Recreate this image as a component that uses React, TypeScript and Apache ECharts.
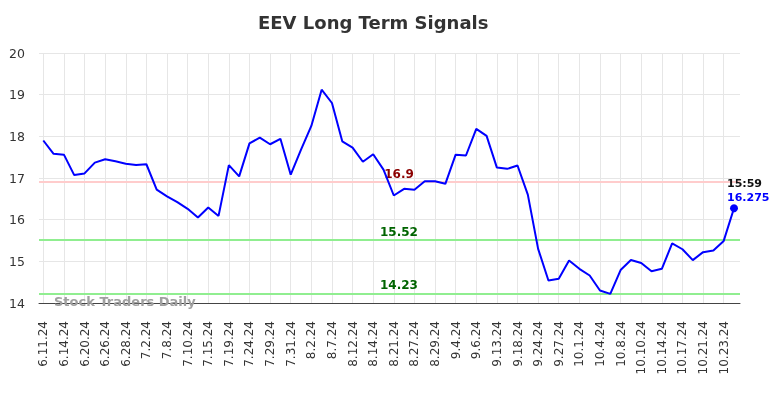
import React, { useEffect, useRef } from "react";
import * as echarts from "echarts";

const dates: string[] = [
  "6.11.24", "6.13.24", "6.14.24", "6.18.24", "6.20.24", "6.24.24", "6.26.24", "6.27.24",
  "6.28.24", "7.1.24", "7.2.24", "7.5.24", "7.8.24", "7.9.24", "7.10.24", "7.12.24",
  "7.15.24", "7.17.24", "7.19.24", "7.22.24", "7.24.24", "7.26.24", "7.29.24", "7.30.24",
  "7.31.24", "8.1.24", "8.2.24", "8.5.24", "8.7.24", "8.9.24", "8.12.24", "8.13.24",
  "8.14.24", "8.19.24", "8.21.24", "8.23.24", "8.27.24", "8.28.24", "8.29.24", "9.3.24",
  "9.4.24", "9.5.24", "9.6.24", "9.11.24", "9.13.24", "9.16.24", "9.18.24", "9.20.24",
  "9.24.24", "9.26.24", "9.27.24", "9.30.24", "10.1.24", "10.3.24", "10.4.24", "10.7.24",
  "10.8.24", "10.9.24", "10.10.24", "10.11.24", "10.14.24", "10.16.24", "10.17.24", "10.18.24",
  "10.21.24", "10.22.24", "10.23.24", "10.24.24",
];

const prices: number[] = [
  17.9, 17.58, 17.56, 17.07, 17.11, 17.37, 17.45, 17.4,
  17.34, 17.31, 17.33, 16.72, 16.56, 16.42, 16.26, 16.05,
  16.29, 16.09, 17.31, 17.04, 17.83, 17.97, 17.81, 17.94,
  17.08, 17.68, 18.25, 19.12, 18.8, 17.88, 17.73, 17.39,
  17.57, 17.2, 16.58, 16.74, 16.72, 16.92, 16.92, 16.86,
  17.56, 17.54, 18.18, 18.01, 17.25, 17.22, 17.3, 16.6,
  15.3, 14.54, 14.58, 15.02, 14.82, 14.66, 14.3, 14.22,
  14.79, 15.03, 14.96, 14.76, 14.82, 15.43, 15.29, 15.03,
  15.22, 15.26, 15.49, 16.275,
];

const resistanceLevel = 16.9;
const supportLevels: number[] = [15.52, 14.23];
const lastTime = "15:59";
const yTicks = { min: 14, max: 20, interval: 1 };

const FONT = "DejaVu Sans";

export default function App() {
  const ref = useRef<HTMLDivElement>(null);

  useEffect(() => {
    if (!ref.current) return;
    const chart = echarts.init(ref.current, undefined, { renderer: "svg" });
    const last = prices.length - 1;

    const seriesData = prices.map((v, i) =>
      i === last
        ? {
            value: v,
            symbol: "circle",
            symbolSize: 8,
            itemStyle: { color: "#0000ff" },
            label: {
              show: true,
              position: "top",
              align: "left",
              offset: [-7, 0],
              distance: 0,
              formatter: `{t|${lastTime}}\n{v|${v}}`,
              rich: {
                t: { fontFamily: FONT, fontWeight: "bold", fontSize: 11, color: "#111", lineHeight: 14 },
                v: { fontFamily: FONT, fontWeight: "bold", fontSize: 11, color: "#0000ff", lineHeight: 14 },
              },
            },
          }
        : { value: v, symbol: "none" }
    );

    const levelLabel = (color: string) => ({
      show: true,
      position: "insideMiddleTop",
      distance: 2,
      padding: [0, 0, 0, 19],
      color,
      fontFamily: FONT,
      fontWeight: "bold",
      fontSize: 12,
      formatter: (p: any) => String(p.value),
    });

    chart.setOption({
      animation: false,
      textStyle: { fontFamily: FONT },
      title: {
        text: "EEV Long Term Signals",
        left: 258,
        top: 13,
        padding: 0,
        textStyle: { fontFamily: FONT, fontWeight: "bold", fontSize: 18, color: "#333" },
      },
      grid: [
        { left: 39, right: 44, top: 53, bottom: 95, containLabel: false },
        { left: 43.3, right: 50, top: 53, bottom: 95, containLabel: false },
      ],
      xAxis: [
        {
          type: "value",
          gridIndex: 0,
          min: 0,
          max: 1,
          axisLine: { show: true, onZero: false, lineStyle: { color: "#444", width: 1 } },
          axisTick: { show: false },
          axisLabel: { show: false },
          splitLine: { show: false },
        },
        {
          type: "category",
          gridIndex: 1,
          data: dates,
          boundaryGap: false,
          axisLine: { show: false },
          axisTick: { show: false, interval: 1 },
          axisLabel: {
            interval: 1,
            rotate: 90,
            margin: 18,
            fontFamily: FONT,
            fontSize: 12,
            color: "#333",
          },
          splitLine: { show: true, interval: 1, lineStyle: { color: "#e6e6e6", width: 1 } },
        },
      ],
      yAxis: [
        {
          type: "value",
          gridIndex: 0,
          min: yTicks.min,
          max: yTicks.max,
          interval: yTicks.interval,
          axisLine: { show: false },
          axisTick: { show: false },
          axisLabel: { margin: 14, fontFamily: FONT, fontSize: 12.5, color: "#333" },
          splitLine: { show: true, lineStyle: { color: "#e6e6e6", width: 1 } },
        },
        {
          type: "value",
          gridIndex: 1,
          min: yTicks.min,
          max: yTicks.max,
          interval: yTicks.interval,
          show: false,
          splitLine: { show: false },
        },
      ],
      graphic: [
        {
          type: "text",
          left: 54,
          top: 295,
          z: 1,
          style: {
            text: "Stock Traders Daily",
            fill: "#a0a0a0",
            fontFamily: FONT,
            fontWeight: "bold",
            fontSize: 13,
          },
        },
      ],
      series: [
        {
          type: "line",
          xAxisIndex: 0,
          yAxisIndex: 0,
          data: [],
          silent: true,
          markLine: {
            silent: true,
            symbol: "none",
            data: [
              { yAxis: resistanceLevel, lineStyle: { color: "#ffcccc", width: 2, type: "solid" }, label: levelLabel("#8b0000") },
              ...supportLevels.map((s) => ({
                yAxis: s,
                lineStyle: { color: "#90ee90", width: 2, type: "solid" },
                label: levelLabel("#006400"),
              })),
            ],
          },
        },
        {
          type: "line",
          xAxisIndex: 1,
          yAxisIndex: 1,
          data: seriesData,
          showSymbol: true,
          symbol: "none",
          lineStyle: { color: "#0000ff", width: 2 },
          itemStyle: { color: "#0000ff" },
          z: 5,
        },
      ],
    });

    return () => chart.dispose();
  }, []);

  return (
    <div
      ref={ref}
      style={{ position: "fixed", left: 0, top: 0, width: 784, height: 398 }}
    />
  );
}
